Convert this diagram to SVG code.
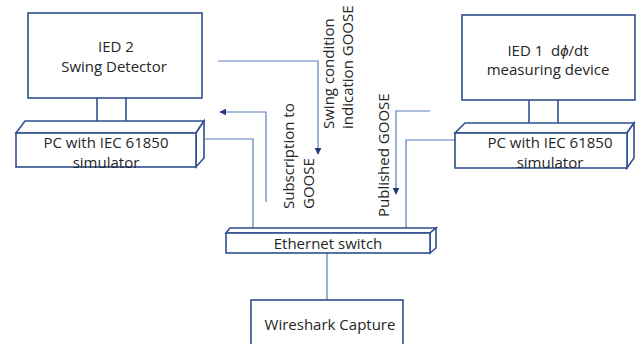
<svg xmlns="http://www.w3.org/2000/svg" width="637" height="344" viewBox="0 0 637 344">
  <style>
    .box { fill: #ffffff; stroke: #2f4f8f; stroke-width: 1.6; stroke-linejoin: miter; }
    .wire { fill: none; stroke: #5a7cbc; stroke-width: 1.2; }
    .stem { fill: none; stroke: #2f4f8f; stroke-width: 1.6; }
    .lbl { font-family: "Open Sans", "Liberation Sans", sans-serif; font-size: 15px; fill: #262626; }
    .mid { text-anchor: middle; }
  </style>
  <defs>
    <marker id="tip" viewBox="0 0 10 10" refX="9" refY="5" markerWidth="7" markerHeight="7" markerUnits="userSpaceOnUse" orient="auto">
      <path d="M0,0 L10,5 L0,10 Z" fill="#1f3a7a"/>
    </marker>
  </defs>

  <!-- connectors -->
  <g id="connectors">
    <line class="stem" x1="97" y1="98" x2="97" y2="121"/>
    <line class="stem" x1="126" y1="98" x2="126" y2="121"/>
    <line class="stem" x1="529" y1="100" x2="529" y2="123"/>
    <line class="stem" x1="558" y1="100" x2="558" y2="123"/>
    <path class="wire" d="M218,61 H318 V154" marker-end="url(#tip)"/>
    <path class="wire" d="M266,202 V112 H220" marker-end="url(#tip)"/>
    <path class="wire" d="M204,139 H253 V228"/>
    <path class="wire" d="M430,111 H396 V194" marker-end="url(#tip)"/>
    <path class="wire" d="M455,140 H406 V228"/>
    <line class="wire" x1="327" y1="253" x2="327" y2="300"/>
  </g>

  <!-- IED 2 -->
  <g id="ied2">
    <rect class="box" x="28" y="13" width="174" height="85"/>
    <text class="lbl mid" x="116" y="52">IED 2</text>
    <text class="lbl mid" x="114" y="72">Swing Detector</text>
  </g>

  <!-- IED 1 -->
  <g id="ied1">
    <rect class="box" x="462" y="15" width="173" height="85"/>
    <text class="lbl mid" x="548" y="56" xml:space="preserve">IED 1  d<tspan font-style="italic">ϕ</tspan>/dt</text>
    <text class="lbl mid" x="548" y="75">measuring device</text>
  </g>

  <!-- PC with simulator, left -->
  <g id="pc-left">
    <polygon class="box" points="16,133 25,121 204,121 196,133"/>
    <polygon class="box" points="196,133 204,121 204,158 196,167"/>
    <rect class="box" x="16" y="133" width="180" height="34"/>
    <text class="lbl mid" x="106" y="148">PC with IEC 61850</text>
    <text class="lbl mid" x="106" y="168">simulator</text>
  </g>

  <!-- PC with simulator, right -->
  <g id="pc-right">
    <polygon class="box" points="455,133 465,123 634,123 627,133"/>
    <polygon class="box" points="627,133 634,123 634,158 627,168"/>
    <rect class="box" x="455" y="133" width="172" height="35"/>
    <text class="lbl mid" x="550" y="148">PC with IEC 61850</text>
    <text class="lbl mid" x="550" y="168">simulator</text>
  </g>

  <!-- Ethernet switch -->
  <g id="switch">
    <polygon class="box" points="226,233 230,228 436,228 430,233"/>
    <polygon class="box" points="430,233 436,228 436,248 430,253"/>
    <rect class="box" x="226" y="233" width="204" height="20"/>
    <text class="lbl mid" x="328" y="249">Ethernet switch</text>
  </g>

  <!-- Wireshark capture -->
  <g id="wireshark">
    <rect class="box" x="251" y="300" width="152" height="60"/>
    <text class="lbl mid" x="330" y="330">Wireshark Capture</text>
  </g>

  <!-- connector labels -->
  <g id="labels">
    <text class="lbl" transform="translate(334,129) rotate(-90)">Swing condition</text>
    <text class="lbl" transform="translate(353,129) rotate(-90)">indication GOOSE</text>
    <text class="lbl" transform="translate(294,209) rotate(-90)">Subscription to</text>
    <text class="lbl" transform="translate(314,209) rotate(-90)">GOOSE</text>
    <text class="lbl" transform="translate(389,217) rotate(-90)">Published GOOSE</text>
  </g>
</svg>
